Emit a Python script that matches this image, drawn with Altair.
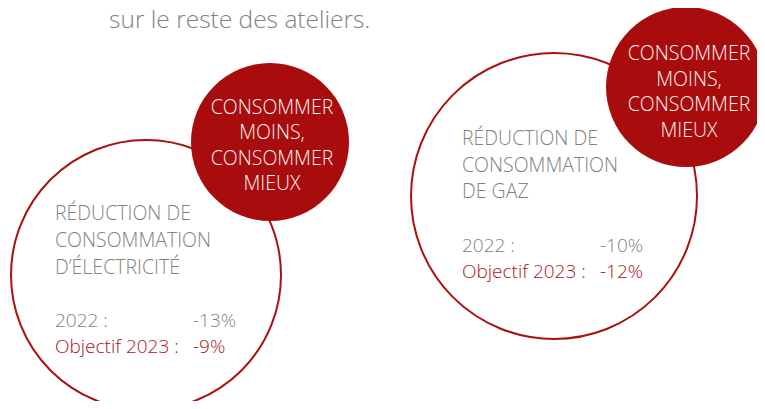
import altair as alt
import pandas as pd

# ---------------- data ----------------
intro_text = ["sur le reste des ateliers."]
badge_lines = ["CONSOMMER", "MOINS,", "CONSOMMER", "MIEUX"]
title_elec = ["RÉDUCTION DE", "CONSOMMATION", "D’ÉLECTRICITÉ"]
title_gaz = ["RÉDUCTION DE", "CONSOMMATION", "DE GAZ"]
row_labels = ["2022 :", "Objectif 2023 :"]
values_elec = [-13, -9]
values_gaz = [-10, -12]

# ---------------- layout (page pixels) ----------------
W, H = 749, 393
OX, OY = 8, 8

ring_elec = dict(cx=146, cy=275, d=270)
ring_gaz = dict(cx=554, cy=196, d=286)
badge_elec = dict(cx=270, cy=142, d=158, tx=272, y0=113.5, dy=25.5)
badge_gaz = dict(cx=686, cy=87, d=160, tx=689, y0=60, dy=25.7)
body_elec = dict(x=55, xv=193, y0=220, dy=27, ry0=327, rdy=26)
body_gaz = dict(x=462, xv=600, y0=145, dy=26.7, ry0=252.3, rdy=25.5)
intro_pos = dict(x=109, y=28)

RED = "#a80c0c"
RING = "#a8120f"
GRAY = "#828282"
OBJ = "#aa1419"
WHITE = "#f9f3f3"
FONT = "Open Sans"

xs = alt.Scale(domain=[OX, OX + W], nice=False, zero=False)
ys = alt.Scale(domain=[OY, OY + H], nice=False, zero=False, reverse=True)

def X(field="x"):
    return alt.X(f"{field}:Q", scale=xs, axis=None)

def Y(field="y"):
    return alt.Y(f"{field}:Q", scale=ys, axis=None)

rings = pd.DataFrame([
    {"x": ring_elec["cx"], "y": ring_elec["cy"], "s": ring_elec["d"] ** 2},
    {"x": ring_gaz["cx"], "y": ring_gaz["cy"], "s": ring_gaz["d"] ** 2},
])
badges = pd.DataFrame([
    {"x": badge_elec["cx"], "y": badge_elec["cy"], "s": badge_elec["d"] ** 2},
    {"x": badge_gaz["cx"], "y": badge_gaz["cy"], "s": badge_gaz["d"] ** 2},
])

badge_rows = []
for b in (badge_elec, badge_gaz):
    for i, t in enumerate(badge_lines):
        badge_rows.append({"x": b["tx"], "y": b["y0"] + i * b["dy"], "t": t})
badge_text = pd.DataFrame(badge_rows)

title_rows = []
for lines, b in ((title_elec, body_elec), (title_gaz, body_gaz)):
    for i, t in enumerate(lines):
        title_rows.append({"x": b["x"], "y": b["y0"] + i * b["dy"], "t": t})
title_text = pd.DataFrame(title_rows)

gray_rows, red_rows = [], []
for vals, b in ((values_elec, body_elec), (values_gaz, body_gaz)):
    gray_rows.append({"x": b["x"], "y": b["ry0"], "t": row_labels[0]})
    gray_rows.append({"x": b["xv"], "y": b["ry0"], "t": f"{vals[0]}%"})
    red_rows.append({"x": b["x"], "y": b["ry0"] + b["rdy"], "t": row_labels[1]})
    red_rows.append({"x": b["xv"], "y": b["ry0"] + b["rdy"], "t": f"{vals[1]}%"})
gray_text = pd.DataFrame(gray_rows)
red_text = pd.DataFrame(red_rows)

intro = pd.DataFrame([{"x": intro_pos["x"], "y": intro_pos["y"], "t": intro_text[0]}])

ring_layer = alt.Chart(rings).mark_point(
    shape="circle", filled=False, color=RING, strokeWidth=2, opacity=1
).encode(x=X(), y=Y(), size=alt.Size("s:Q", scale=None, legend=None))

badge_layer = alt.Chart(badges).mark_point(
    shape="circle", filled=True, color=RED, opacity=1, strokeWidth=0
).encode(x=X(), y=Y(), size=alt.Size("s:Q", scale=None, legend=None))

def text_layer(df, color, size, align="left"):
    return alt.Chart(df).mark_text(
        font=FONT, fontWeight=300, fontSize=size, color=color,
        align=align, baseline="alphabetic"
    ).encode(x=X(), y=Y(), text="t:N")

chart = alt.layer(
    ring_layer,
    badge_layer,
    text_layer(badge_text, WHITE, 19.5, "center"),
    text_layer(title_text, GRAY, 19.5),
    text_layer(gray_text, GRAY, 19),
    text_layer(red_text, OBJ, 19),
    text_layer(intro, GRAY, 24.5),
).properties(
    width=W, height=H, padding=0, autosize=alt.AutoSizeParams(type="none"),
    background="white"
).configure_view(stroke=None)

chart.save("out.html", embed_options={"renderer": "svg", "actions": False})
